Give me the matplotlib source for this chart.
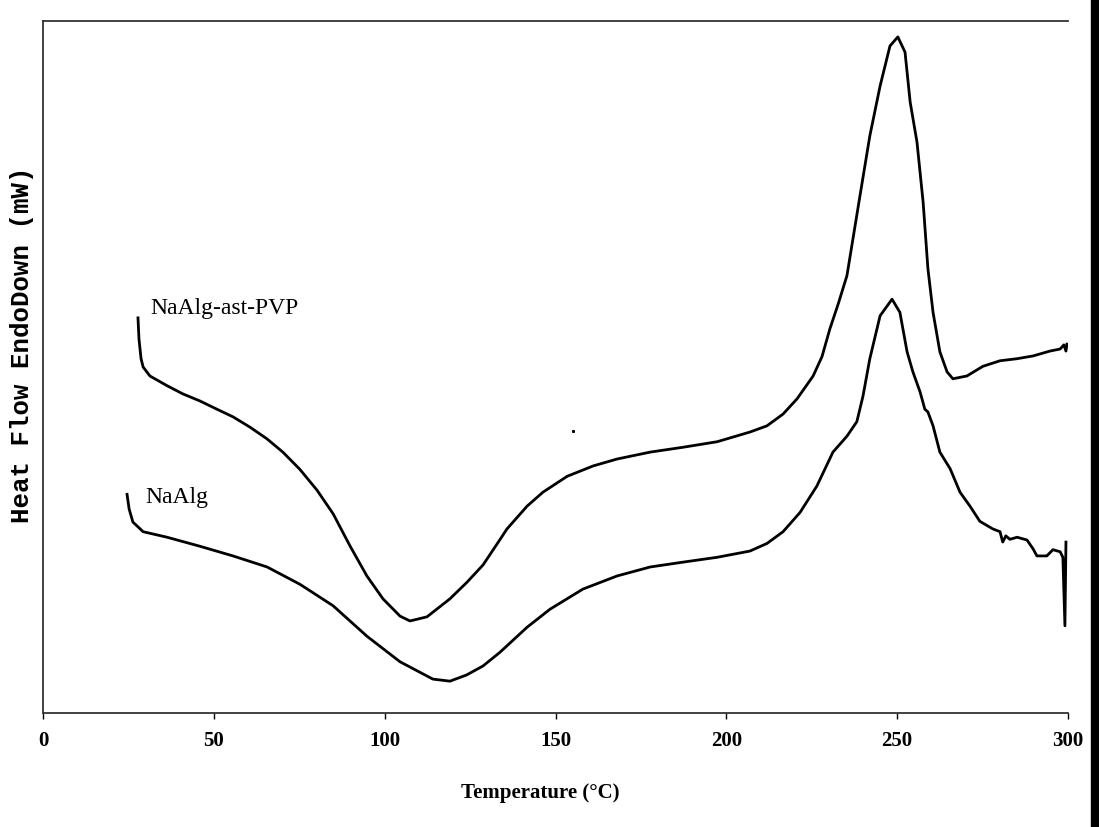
import matplotlib.pyplot as plt
from matplotlib.patches import Rectangle

# NaAlg-ast-PVP trace (temperature in degC, heat flow in arbitrary units)
pvp_temp = [27.8, 28.1, 28.7, 29.3, 31.3, 36.3, 41.0, 45.9, 50.9, 55.6, 60.6, 65.6, 70.2, 75.2,
            80.2, 84.9, 89.9, 94.8, 99.5, 104.5, 107.4, 112.4, 119.1, 124.1, 128.8, 133.8, 135.8,
            141.7, 146.3, 153.4, 161.0, 168.0, 177.7, 187.3, 197.3, 206.9, 211.9, 216.6, 220.7,
            225.4, 228.0, 230.3, 232.8, 235.3, 239.1, 242.0, 245.0, 247.9, 250.2, 252.3, 253.8,
            255.8, 257.6, 259.0, 260.5, 262.5, 264.6, 266.3, 270.4, 275.1, 280.1, 285.1, 289.8,
            294.7, 297.7, 298.8, 299.4, 299.7]
pvp_flow = [5.71, 5.40, 5.12, 5.00, 4.87, 4.73, 4.61, 4.51, 4.39, 4.28, 4.13, 3.96, 3.77, 3.52,
            3.22, 2.88, 2.41, 1.98, 1.65, 1.40, 1.33, 1.39, 1.65, 1.89, 2.14, 2.51, 2.66,
            2.99, 3.19, 3.42, 3.57, 3.67, 3.77, 3.84, 3.92, 4.06, 4.15, 4.32, 4.54,
            4.87, 5.15, 5.55, 5.92, 6.32, 7.47, 8.34, 9.06, 9.64, 9.77, 9.55, 8.83,
            8.25, 7.38, 6.42, 5.79, 5.22, 4.93, 4.83, 4.87, 5.01, 5.09, 5.12, 5.16,
            5.23, 5.26, 5.32, 5.23, 5.33]

# NaAlg trace
alg_temp = [24.6, 25.2, 26.3, 29.3, 36.3, 45.9, 55.6, 65.6, 75.2, 84.9, 94.8, 104.5, 114.1,
            119.1, 124.0, 128.8, 133.8, 141.7, 148.4, 158.0, 168.0, 177.7, 187.3, 197.3, 206.9,
            211.9, 216.6, 221.6, 226.5, 231.2, 235.3, 238.2, 240.0, 242.0, 245.0, 248.5, 250.8,
            252.9, 254.6, 256.7, 258.1, 259.0, 260.5, 262.5, 265.5, 268.4, 271.3, 274.2, 278.0,
            280.1, 280.9, 281.8, 283.0, 285.1, 288.0, 289.8, 290.9, 293.8, 295.6, 297.7, 298.5,
            299.1, 299.4]
alg_flow = [3.16, 2.95, 2.76, 2.62, 2.54, 2.41, 2.27, 2.11, 1.86, 1.55, 1.11, 0.74, 0.49,
            0.46, 0.55, 0.68, 0.88, 1.24, 1.50, 1.79, 1.98, 2.11, 2.18, 2.25, 2.34,
            2.45, 2.62, 2.90, 3.28, 3.77, 4.00, 4.21, 4.58, 5.12, 5.74, 5.98, 5.79,
            5.22, 4.93, 4.64, 4.39, 4.35, 4.15, 3.77, 3.53, 3.19, 2.99, 2.77, 2.66,
            2.62, 2.47, 2.56, 2.51, 2.54, 2.50, 2.37, 2.27, 2.27, 2.36, 2.33, 2.25,
            1.26, 2.47]

x_ticks = [0, 50, 100, 150, 200, 250, 300]

W, H = 1099, 828
fig = plt.figure(figsize=(W / 100, H / 100), dpi=100)
ax = fig.add_axes([43 / W, (H - 714) / H, (1068 - 43) / W, (714 - 22) / H])

ax.plot(pvp_temp, pvp_flow, color='black', lw=2.0)
ax.plot(alg_temp, alg_flow, color='black', lw=2.0)
ax.plot([155], [4.08], marker='s', ms=1.2, color='black')

ax.text(31.3, 5.78, 'NaAlg-ast-PVP', family='Liberation Serif', fontsize=17, va='baseline')
ax.text(29.9, 3.05, 'NaAlg', family='Liberation Serif', fontsize=17, va='baseline')

ax.set_xlim(0, 300)
ax.set_ylim(0, 10)
ax.set_xticks(x_ticks)
ax.set_xticklabels([str(t) for t in x_ticks], family='Liberation Serif', fontweight='bold', fontsize=15)
ax.set_yticks([])
ax.tick_params(axis='x', direction='out', length=4, width=1, pad=8)

ax.spines['right'].set_visible(False)
for side in ['left', 'bottom', 'top']:
    ax.spines[side].set_color('#333333')
    ax.spines[side].set_linewidth(1.3)

ax.set_xlabel('Temperature (°C)', family='Liberation Serif', fontweight='bold', fontsize=15)
ax.xaxis.set_label_coords((540 - 43) / 1025, (714 - 783) / 692)
ax.xaxis.label.set_va('top')

fig.text(22 / W, 1 - 345 / H, 'Heat Flow EndoDown (mW)', rotation=90, ha='center', va='center',
         family='Liberation Mono', fontweight='bold', fontsize=18.5)

# black strip along the right edge of the scan
fig.patches.append(Rectangle((1091 / W, 0), 1 - 1091 / W, 1, transform=fig.transFigure,
                             color='black', zorder=5))

fig.savefig('out.png', dpi=100)
